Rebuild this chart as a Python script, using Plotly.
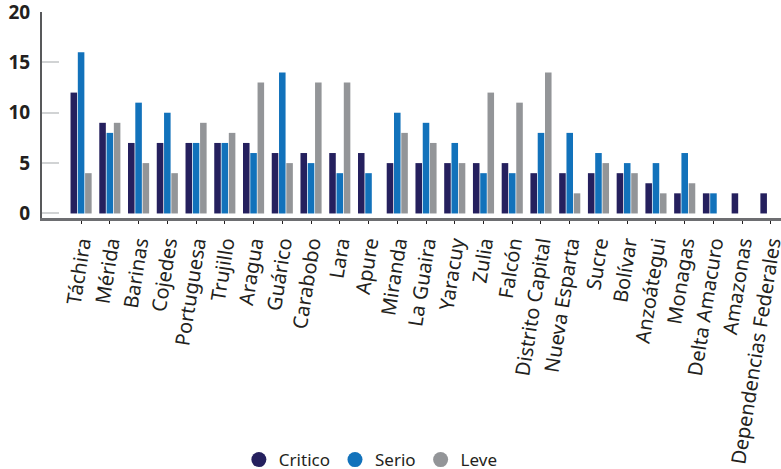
import plotly.graph_objects as go

# States (in the order they appear on the chart)
estados = [
    "Táchira", "Mérida", "Barinas", "Cojedes", "Portuguesa", "Trujillo",
    "Aragua", "Guárico", "Carabobo", "Lara", "Apure", "Miranda",
    "La Guaira", "Yaracuy", "Zulia", "Falcón", "Distrito Capital",
    "Nueva Esparta", "Sucre", "Bolívar", "Anzoátegui", "Monagas",
    "Delta Amacuro", "Amazonas", "Dependencias Federales",
]

critico = [12, 9, 7, 7, 7, 7, 7, 6, 6, 6, 6, 5, 5, 5, 5, 5, 4, 4, 4, 4, 3, 2, 2, 2, 2]
serio = [16, 8, 11, 10, 7, 7, 6, 14, 5, 4, 4, 10, 9, 7, 4, 4, 8, 8, 6, 5, 5, 6, 2, 0, 0]
leve = [4, 9, 5, 4, 9, 8, 13, 5, 13, 13, 0, 8, 7, 5, 12, 11, 14, 2, 5, 4, 2, 3, 0, 0, 0]

y_ticks = [0, 5, 10, 15, 20]

series = [
    ("Critico", critico, "#25205e"),
    ("Serio", serio, "#1272bb"),
    ("Leve", leve, "#939598"),
]

txt = "#231f20"
fig = go.Figure()

for name, vals, col in series:
    fig.add_trace(go.Bar(
        x=estados, y=vals, name=name,
        marker=dict(color=col, line=dict(width=0)),
        showlegend=False,
    ))

# legend entries drawn as round dots
for name, vals, col in series:
    fig.add_trace(go.Scatter(
        x=[None], y=[None], mode="markers", name=name,
        marker=dict(symbol="circle", size=15, color=col),
    ))

fig.update_layout(
    width=781, height=469,
    paper_bgcolor="white", plot_bgcolor="white",
    margin=dict(l=42, r=0, t=12, b=251, autoexpand=False),
    barmode="group",
    bargap=0.24,
    bargroupgap=0.1,
    font=dict(family="Noto Sans", color=txt),
    showlegend=True,
    legend=dict(
        orientation="h",
        x=0.445, y=-1.175, xanchor="center", yanchor="middle",
        font=dict(size=17, color=txt),
        itemwidth=30,
        tracegroupgap=0,
        bgcolor="rgba(0,0,0,0)",
    ),
    xaxis=dict(
        type="category",
        range=[-1.36, 24.35],
        automargin=False,
        showgrid=False,
        showline=True, linecolor="#6d6e71", linewidth=2.5,
        ticks="outside", ticklen=3, tickcolor="#231f20", tickwidth=1,
        tickangle=-81,
        tickfont=dict(size=20, color=txt),
        fixedrange=True,
    ),
    yaxis=dict(
        range=[-0.45, 20],
        tickvals=y_ticks,
        automargin=False,
        showgrid=False, zeroline=False,
        showline=True, linecolor="#58595b", linewidth=2,
        ticks="inside", ticklen=17, tickcolor="#d1d3d4", tickwidth=2,
        tickfont=dict(size=19, color=txt, weight="bold"),
        ticklabelstandoff=6,
        ticklabeloverflow="allow",
        fixedrange=True,
    ),
)

# drop the default page margin so the chart sits at the window's corner
fig.write_html(
    "out.html",
    config={"displayModeBar": False},
    post_script="document.body.style.margin='0';",
)
